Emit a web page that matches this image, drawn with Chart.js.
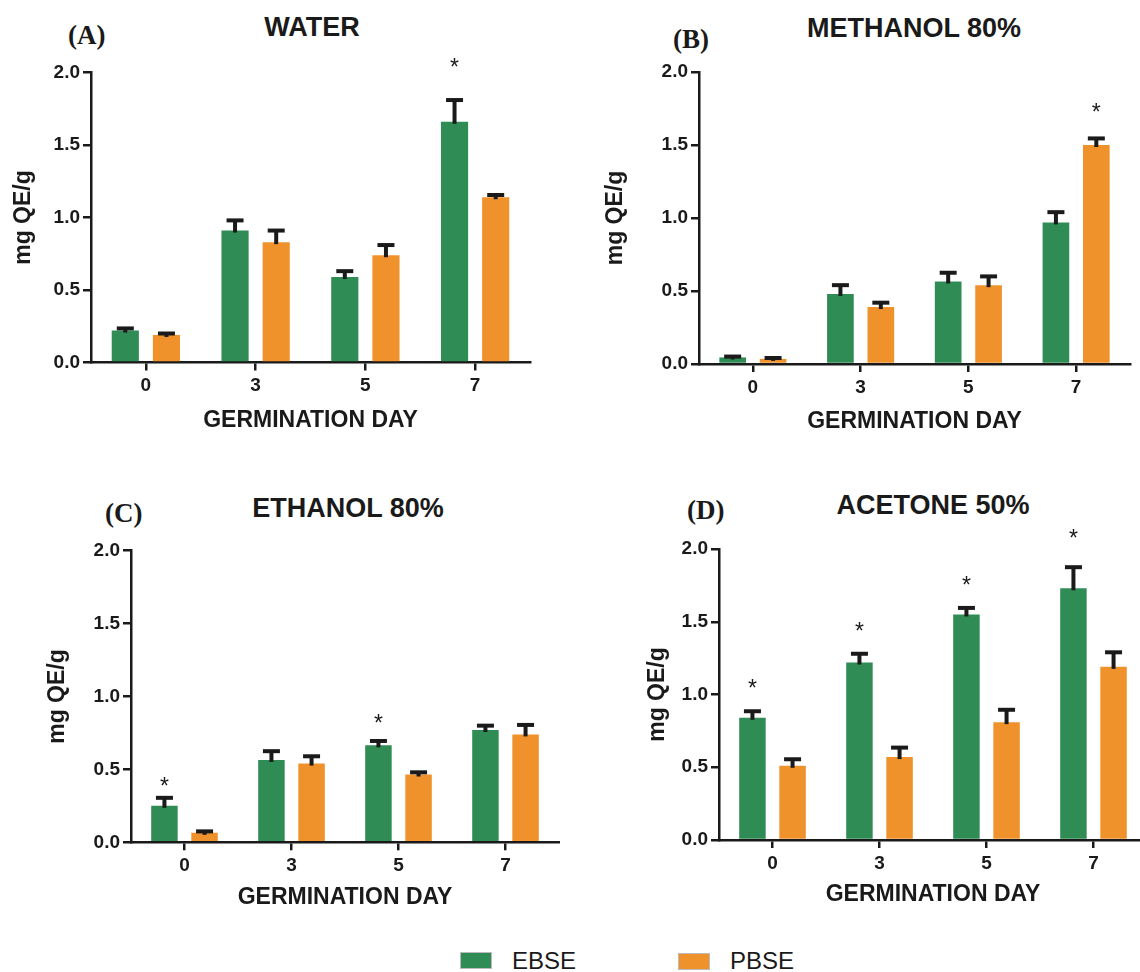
<!DOCTYPE html>
<html>
<head>
<meta charset="utf-8">
<script src="https://cdn.jsdelivr.net/npm/chart.js@4.4.0/dist/chart.umd.min.js"></script>
<style>
body{margin:0;background:#fff;width:1140px;height:972px;position:relative;overflow:hidden;font-family:"Liberation Sans",Arial,sans-serif;color:#1a1a1a;}
canvas{position:absolute;}
.title{position:absolute;width:400px;text-align:center;font-weight:bold;font-size:27px;line-height:32px;}
.letter{position:absolute;font-family:"Liberation Serif","Times New Roman",serif;font-weight:bold;font-size:27px;line-height:32px;}
.swatch{position:absolute;width:32px;height:17px;border:1px solid #bbb;box-sizing:border-box;}
.legtext{position:absolute;font-size:24px;line-height:28px;}
</style>
</head>
<body>

<div class="letter" style="left:68px;top:19px">(A)</div>
<div class="title" style="left:112px;top:11px">WATER</div>
<div class="letter" style="left:673px;top:23px">(B)</div>
<div class="title" style="left:714px;top:12px">METHANOL 80%</div>
<div class="letter" style="left:105px;top:497px">(C)</div>
<div class="title" style="left:148px;top:492px">ETHANOL 80%</div>
<div class="letter" style="left:687px;top:494px">(D)</div>
<div class="title" style="left:733px;top:489px">ACETONE 50%</div>

<canvas id="chartA" width="560" height="450" style="left:0;top:0"></canvas>
<canvas id="chartB" width="570" height="450" style="left:570px;top:0"></canvas>
<canvas id="chartC" width="560" height="450" style="left:0;top:470px"></canvas>
<canvas id="chartD" width="580" height="450" style="left:570px;top:470px"></canvas>

<div class="swatch" style="left:460px;top:952px;background:#2f8c55"></div>
<div class="legtext" style="left:512px;top:947px">EBSE</div>
<div class="swatch" style="left:678px;top:953px;background:#f0922c"></div>
<div class="legtext" style="left:730px;top:947px">PBSE</div>

<script>
// germination days and y tick text
let days = ['0', '3', '5', '7'];
let yTickLabels = ['0.0', '0.5', '1.0', '1.5', '2.0'];

// (A) water
let waterEbse = [0.22, 0.91, 0.59, 1.66];
let waterEbseErr = [0.015, 0.07, 0.04, 0.15];
let waterPbse = [0.19, 0.83, 0.74, 1.14];
let waterPbseErr = [0.01, 0.08, 0.07, 0.015];
let waterEbseStars = [null, null, null, 2.07];
let waterPbseStars = [null, null, null, null];

// (B) methanol 80%
let methEbse = [0.045, 0.48, 0.565, 0.97];
let methEbseErr = [0.006, 0.06, 0.06, 0.07];
let methPbse = [0.035, 0.39, 0.54, 1.50];
let methPbseErr = [0.006, 0.03, 0.06, 0.045];
let methEbseStars = [null, null, null, null];
let methPbseStars = [null, null, null, 1.76];

// (C) ethanol 80%
let ethEbse = [0.25, 0.565, 0.665, 0.77];
let ethEbseErr = [0.055, 0.06, 0.03, 0.03];
let ethPbse = [0.065, 0.54, 0.465, 0.74];
let ethPbseErr = [0.01, 0.05, 0.015, 0.065];
let ethEbseStars = [0.42, null, 0.85, null];
let ethPbseStars = [null, null, null, null];

// (D) acetone 50%
let aceEbse = [0.84, 1.22, 1.55, 1.73];
let aceEbseErr = [0.045, 0.06, 0.045, 0.145];
let acePbse = [0.51, 0.57, 0.81, 1.19];
let acePbseErr = [0.045, 0.065, 0.085, 0.10];
let aceEbseStars = [1.08, 1.47, 1.79, 2.11];
let acePbseStars = [null, null, null, null];

const green = '#2f8c55';
const orange = '#f0922c';
const ink = '#1a1a1a';
const fam = '"Liberation Sans", Arial, sans-serif';

// draws the upper error bars and the asterisks
const errorBars = {
	id: 'errorBars',
	afterDatasetsDraw(chart){
		let ctx = chart.ctx;
		let y = chart.scales.y;
		ctx.save();
		ctx.strokeStyle = ink;
		ctx.fillStyle = ink;
		ctx.lineWidth = 4;
		ctx.font = '23px ' + fam;
		ctx.textAlign = 'center';
		ctx.textBaseline = 'alphabetic';
		chart.data.datasets.forEach((ds, i) => {
			chart.getDatasetMeta(i).data.forEach((bar, j) => {
				let top = y.getPixelForValue(ds.data[j] + ds.errors[j]);
				ctx.beginPath();
				ctx.moveTo(bar.x, bar.y + 2);
				ctx.lineTo(bar.x, top);
				ctx.stroke();
				ctx.beginPath();
				ctx.moveTo(bar.x - 8.5, top);
				ctx.lineTo(bar.x + 8.5, top);
				ctx.stroke();
				if (ds.stars[j] != null){
					ctx.fillText('*', bar.x, y.getPixelForValue(ds.stars[j]) + 13);
				}
			});
		});
		ctx.restore();
	}
};

function makeChart(id, ebse, ebseErr, ebseStars, pbse, pbseErr, pbseStars, geo){
	let ctx = document.getElementById(id).getContext('2d');
	return new Chart(ctx, {
		type: 'bar',
		data: {
			labels: days,
			datasets: [{
				label: 'EBSE',
				data: ebse,
				errors: ebseErr,
				stars: ebseStars,
				backgroundColor: green
			},
			{
				label: 'PBSE',
				data: pbse,
				errors: pbseErr,
				stars: pbseStars,
				backgroundColor: orange
			}]
		},
		options: {
			responsive: false,
			animation: false,
			devicePixelRatio: 1,
			categoryPercentage: 0.75,
			barPercentage: 0.66,
			layout: {padding: {top: geo.top, right: geo.right, left: 0, bottom: 0}},
			plugins: {legend: {display: false}, tooltip: {enabled: false}},
			scales: {
				x: {
					grid: {display: true, drawOnChartArea: false, drawTicks: true, tickLength: 8, offset: false, color: ink, lineWidth: 2.5},
					border: {display: true, color: ink, width: 2.5},
					ticks: {color: ink, padding: 4, font: {family: fam, size: 19, weight: 'bold'}},
					title: {display: true, text: 'GERMINATION DAY', color: ink, font: {family: fam, size: 23, weight: 'bold'}, padding: {top: 0, bottom: geo.xTitlePad}},
					afterFit: s => { s.height = geo.xH; }
				},
				y: {
					min: 0,
					max: 2,
					grid: {display: true, drawOnChartArea: false, drawTicks: true, tickLength: 8, color: ink, lineWidth: 2.5},
					border: {display: true, color: ink, width: 2.5},
					ticks: {stepSize: 0.5, color: ink, padding: 3, font: {family: fam, size: 19, weight: 'bold'},
						callback: (v, i) => yTickLabels[i]},
					title: {display: true, text: 'mg QE/g', color: ink, font: {family: fam, size: 23, weight: 'bold'}, padding: {top: geo.yTitlePad, bottom: 0}},
					afterFit: s => { s.width = geo.yW; }
				}
			}
		},
		plugins: [errorBars]
	});
}

window.onload = function(){
	makeChart('chartA', waterEbse, waterEbseErr, waterEbseStars, waterPbse, waterPbseErr, waterPbseStars,
		{top: 72.5, right: 30, yW: 91, xH: 87.5, yTitlePad: 10, xTitlePad: 16});
	makeChart('chartB', methEbse, methEbseErr, methEbseStars, methPbse, methPbseErr, methPbseStars,
		{top: 72, right: 10, yW: 129, xH: 86, yTitlePad: 32, xTitlePad: 15});
	makeChart('chartC', ethEbse, ethEbseErr, ethEbseStars, ethPbse, ethPbseErr, ethPbseStars,
		{top: 80.7, right: 1, yW: 131, xH: 77.7, yTitlePad: 44, xTitlePad: 9});
	makeChart('chartD', aceEbse, aceEbseErr, aceEbseStars, acePbse, acePbseErr, acePbseStars,
		{top: 79, right: 3, yW: 149, xH: 80, yTitlePad: 74, xTitlePad: 12});
}
</script>
</body>
</html>
